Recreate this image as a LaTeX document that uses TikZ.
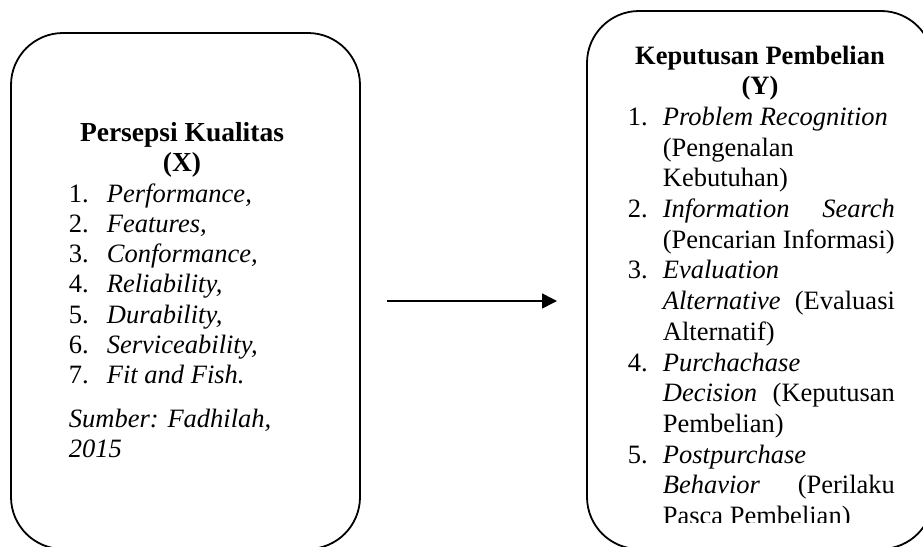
\documentclass[tikz,border=0pt]{standalone}
\usepackage{fontspec}
\setmainfont{Liberation Serif}
\usetikzlibrary{arrows.meta}

% one justified line of the right list
\newcommand{\jline}[1]{\makebox[232pt][s]{#1}}

\begin{document}
\begin{tikzpicture}[x=1pt, y=-1pt, line width=1.8pt,
  box/.style={draw, rounded corners=52pt, inner sep=0pt},
  xtxt/.style={inner sep=0pt, font=\fontsize{26.5}{30.3}\selectfont},
  ytxt/.style={inner sep=0pt, font=\fontsize{26.5}{30.7}\selectfont}]

  % Page size
  \def\W{923}
  \def\H{546}
  \useasboundingbox (0,0) rectangle (\W,\H);
  \clip (0,0) rectangle (\W,\H);

  % Draw the two boxes (bottoms run off the page)
  \node[box, minimum width=349pt, minimum height=516pt] (xbox) at (185.5,291) {};
  \node[box, minimum width=346pt, minimum height=538pt] (ybox) at (760,280) {};

  % Left box: Persepsi Kualitas
  \node[xtxt, anchor=base] (xtitle) at (182,141)
    {\begin{tabular}[t]{@{}c@{}}\fontsize{27.5}{30.3}\selectfont\textbf{Persepsi Kualitas}\\ \fontsize{27.5}{30.3}\selectfont\textbf{(X)}\end{tabular}};
  \node[xtxt, anchor=base west] (xlist) at (68,202)
    {\begin{tabular}[t]{@{}p{38pt}@{}l@{}}
      1. & \textit{Performance,}\\
      2. & \textit{Features,}\\
      3. & \textit{Conformance,}\\
      4. & \textit{Reliability,}\\
      5. & \textit{Durability,}\\
      6. & \textit{Serviceability,}\\
      7. & \textit{Fit and Fish.}\\[13pt]
      \multicolumn{2}{@{}l@{}}{\textit{Sumber: Fadhilah,}}\\
      \multicolumn{2}{@{}l@{}}{\textit{2015}}
    \end{tabular}};

  % Right box: Keputusan Pembelian (last line cut off)
  \begin{scope}
    \clip (587,11) rectangle (933,522);
    \node[ytxt, anchor=base] (ytitle) at (760,64)
      {\begin{tabular}[t]{@{}c@{}}\textbf{Keputusan Pembelian}\\ \textbf{(Y)}\end{tabular}};
    \node[ytxt, anchor=base west] (ylist) at (627,125.4)
      {\begin{tabular}[t]{@{}p{35pt}@{}l@{}}
        1. & \textit{Problem Recognition}\\
           & (Pengenalan\\
           & Kebutuhan)\\
        2. & \jline{\textit{Information} \textit{Search}}\\
           & (Pencarian Informasi)\\
        3. & \textit{Evaluation}\\
           & \jline{\textit{Alternative} (Evaluasi}\\
           & Alternatif)\\
        4. & \textit{Purchachase}\\
           & \jline{\textit{Decision} (Keputusan}\\
           & Pembelian)\\
        5. & \textit{Postpurchase}\\
           & \jline{\textit{Behavior} (Perilaku}\\
           & Pasca Pembelian)
      \end{tabular}};
  \end{scope}

  % Arrow X -> Y
  \coordinate (xy-start) at (387,301);
  \coordinate (xy-end) at (557,301);
  \draw[line width=1.6pt, -{Triangle[length=15pt, width=15pt]}] (xy-start) -- (xy-end);

\end{tikzpicture}
\end{document}
